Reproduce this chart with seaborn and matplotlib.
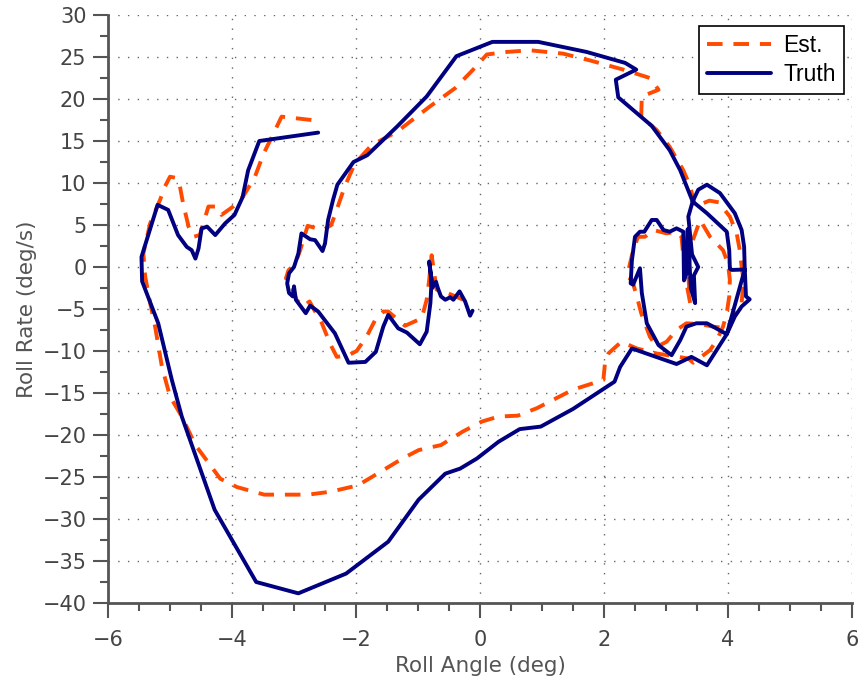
import matplotlib
matplotlib.use("Agg")
import matplotlib.pyplot as plt
from matplotlib.ticker import MultipleLocator
import seaborn as sns
import pandas as pd

# Roll angle (deg) / roll rate (deg/s) phase-plane trajectories
truth_x = [-2.61, -3.56, -3.74, -3.83, -3.96, -4.11, -4.27, -4.40, -4.49, -4.54, -4.59, -4.65,
           -4.73, -4.87, -5.03, -5.20, -5.46, -5.45, -5.19, -4.97, -4.81, -4.28, -3.61, -2.93,
           -2.16, -1.48, -0.99, -0.56, -0.32, -0.05, 0.30, 0.64, 0.98, 1.50, 2.17,
           2.26, 2.45, 3.17, 3.41, 3.66, 3.98, 4.27, 4.06, 4.03, 4.02, 3.98, 3.66, 3.43,
           3.36, 3.42, 3.52, 3.45, 3.47, 3.40, 3.35, 3.33, 3.29, 3.28,
           3.17, 3.06, 2.96, 2.85, 2.77, 2.65, 2.58, 2.50, 2.45, 2.43, 2.47, 2.58, 2.61, 2.69,
           2.88, 3.09, 3.23, 3.33, 3.49, 3.66, 3.98,
           4.11, 4.22, 4.35, 4.29, 4.27, 4.26, 4.22, 4.11, 3.87, 3.66, 3.52, 3.43,
           3.23, 3.06, 2.77, 2.23, 2.19, 2.52, 2.34, 1.72, 0.94, 0.20, -0.38, -0.86, -1.34,
           -1.82, -2.04, -2.30, -2.37, -2.45, -2.50, -2.54, -2.66, -2.74, -2.88, -2.93, -3.00,
           -3.08, -3.11, -3.08, -3.02, -3.00, -2.97, -2.81, -2.74, -2.61, -2.34, -2.12, -1.85,
           -1.68, -1.56, -1.48, -1.32, -1.18, -0.97, -0.86, -0.80, -0.78, -0.82, -0.77, -0.71,
           -0.68, -0.63, -0.56, -0.48, -0.43, -0.33, -0.24, -0.16, -0.12]
truth_y = [16.0, 15.0, 11.5, 8.3, 6.2, 5.2, 3.8, 4.8, 4.6, 2.2, 1.0, 2.0,
           2.4, 3.8, 6.8, 7.4, 1.2, -1.7, -6.7, -13.45, -17.8, -28.9, -37.5, -38.85,
           -36.5, -32.7, -27.7, -24.6, -24.0, -22.8, -20.8, -19.3, -19.0, -16.9, -13.65,
           -11.9, -9.7, -11.55, -10.7, -11.7, -8.0, -0.3, -0.35, -0.2, 2.0, 4.2, 6.4, 7.8,
           6.0, 1.5, 0.0, -1.0, -4.3, -2.5, 4.5, -0.8, -1.6, 4.2,
           4.6, 4.2, 4.4, 5.6, 5.6, 4.2, 4.2, 3.6, 0.8, -1.95, -2.1, -0.15, -3.1, -6.7,
           -9.3, -10.5, -8.7, -7.1, -6.7, -6.7, -8.0,
           -5.9, -4.7, -3.85, -3.5, -0.15, 2.4, 4.4, 6.4, 8.8, 9.8, 9.2, 7.8,
           11.5, 13.9, 16.8, 20.2, 22.3, 23.5, 24.3, 25.6, 26.8, 26.8, 25.1, 20.3, 16.7,
           13.3, 12.5, 9.8, 8.0, 5.6, 2.8, 1.9, 3.2, 3.3, 4.0, 1.6, 0.0,
           -0.75, -1.95, -3.1, -3.5, -2.3, -3.9, -5.5, -4.6, -5.3, -7.9, -11.4, -11.3,
           -10.1, -7.1, -5.7, -7.3, -7.8, -9.2, -7.7, -4.3, -1.5, 0.65, -2.5, -1.75,
           -2.5, -3.5, -3.9, -3.6, -3.9, -2.9, -4.1, -5.8, -5.2]

est_x = [-2.72, -3.20, -3.33, -3.49, -3.63, -3.82, -3.98, -4.17, -4.25, -4.38, -4.52, -4.62,
         -4.70, -4.79, -4.84, -4.90, -5.00, -5.08, -5.16, -5.32, -5.43, -5.40, -5.32, -5.24,
         -5.13, -5.00, -4.81, -4.59, -4.19, -3.92, -3.48, -2.77, -2.41, -1.97, -1.61, -1.25,
         -0.99, -0.63, -0.28, 0.03, 0.30, 0.61, 0.92, 1.50, 1.99,
         2.02, 2.07, 2.28, 2.53, 2.85, 3.20, 3.36, 3.44, 3.55, 3.71, 3.82, 3.92, 3.98, 4.02,
         4.03, 4.00, 3.92, 3.71, 3.55,
         3.40, 3.36, 3.39, 3.33, 3.28, 3.25, 3.17, 3.01, 2.80, 2.66, 2.55, 2.47, 2.37, 2.45,
         2.53, 2.60, 2.74, 2.85, 3.01, 3.17, 3.33, 3.55, 3.76, 3.98, 4.12, 4.22, 4.25, 4.22,
         4.19, 4.14, 4.03, 3.85, 3.70, 3.47, 3.39, 3.28, 3.06, 2.85, 2.60, 2.61, 2.88, 2.74,
         2.31, 1.77, 1.34, 0.81, 0.43, 0.11, -0.11, -0.40, -0.81, -1.34, -1.75, -2.02, -2.18,
         -2.34, -2.40, -2.53, -2.63, -2.78, -2.90, -2.98, -3.09, -3.13, -3.04, -3.02, -2.96,
         -2.85, -2.75, -2.69, -2.55, -2.42, -2.31, -2.12, -1.99, -1.83, -1.69, -1.56, -1.48,
         -1.21, -0.94, -0.86, -0.82, -0.78, -0.70, -0.59, -0.46, -0.27, -0.13]
est_y = [17.5, 17.9, 15.9, 13.5, 10.75, 8.4, 7.2, 6.2, 7.2, 7.2, 3.8, 3.6,
         4.8, 7.6, 9.6, 10.6, 10.75, 9.6, 8.0, 5.2, 1.6, -1.15, -4.3, -7.1,
         -11.9, -15.4, -17.8, -21.2, -25.2, -26.2, -27.1, -27.1, -26.75, -26.0, -24.4, -22.8,
         -21.8, -21.2, -19.6, -18.4, -17.8, -17.7, -16.8, -14.6, -13.45,
         -11.1, -10.3, -8.9, -9.7, -10.3, -10.7, -10.9, -11.4, -10.8, -9.9, -8.7, -7.1, -5.5, -3.5,
         -1.55, 0.4, 2.0, 3.6, 5.6,
         2.5, -1.0, -4.3, -1.95, 1.2, 3.6, 4.2, 4.0, 4.4, 3.6, 3.6, 2.0, -1.15, -1.5,
         -3.5, -5.5, -8.3, -9.5, -8.9, -7.5, -6.7, -6.8, -7.1, -7.3, -5.6, -4.3, -1.55, 0.0,
         2.0, 4.0, 6.0, 7.7, 7.9, 7.2, 9.6, 11.5, 14.3, 16.3, 17.9, 20.3, 21.1, 22.5,
         23.5, 24.6, 25.4, 25.8, 25.6, 25.3, 23.5, 21.3, 19.1, 16.1, 14.5, 12.3, 9.6,
         6.2, 5.0, 4.4, 4.6, 4.9, 2.0, 0.4, -0.4, -1.35, -1.55, -2.7, -3.9,
         -4.7, -4.1, -4.9, -6.7, -9.1, -10.7, -10.5, -10.0, -8.3, -6.3, -5.3, -5.3,
         -7.0, -6.1, -3.9, -1.55, 1.4, -2.7, -2.9, -3.3, -3.9, -3.5]

x_ticks = [-6, -4, -2, 0, 2, 4, 6]
y_ticks = [-40, -35, -30, -25, -20, -15, -10, -5, 0, 5, 10, 15, 20, 25, 30]

est_df = pd.DataFrame({"angle": est_x, "rate": est_y})
truth_df = pd.DataFrame({"angle": truth_x, "rate": truth_y})

sns.set_style("white")
plt.rcParams["font.family"] = ["DejaVu Sans"]
plt.rcParams["axes.unicode_minus"] = True

fig = plt.figure(figsize=(8.63, 6.86), dpi=100)
ax = fig.add_axes([108 / 863, 1 - 603 / 686, 744 / 863, 588 / 686])

sns.lineplot(data=est_df, x="angle", y="rate", sort=False, estimator=None, ax=ax,
             color="#ff4a00", linewidth=2.8, label="Est.")
ax.lines[-1].set_dashes((4.0, 2.8))
sns.lineplot(data=truth_df, x="angle", y="rate", sort=False, estimator=None, ax=ax,
             color="#000080", linewidth=2.8, label="Truth")

ax.set_xlim(-6, 6)
ax.set_ylim(-40, 30)
ax.set_xticks(x_ticks)
ax.set_yticks(y_ticks)
ax.xaxis.set_minor_locator(MultipleLocator(0.5))
ax.yaxis.set_minor_locator(MultipleLocator(2.5))

ax.grid(True, which="major", linestyle=(0, (1, 6)), color="#666666", linewidth=1.0)
ax.set_axisbelow(True)

for side in ("top", "right"):
    ax.spines[side].set_visible(False)
for side in ("left", "bottom"):
    ax.spines[side].set_color("#555555")
    ax.spines[side].set_linewidth(2.0)

ax.tick_params(which="major", direction="out", length=10.5, width=1.5, color="#555555",
               labelsize=15, labelcolor="#444444")
ax.tick_params(which="minor", direction="out", length=5.5, width=1.5, color="#555555")
ax.tick_params(axis="x", which="major", pad=9, bottom=True)
ax.tick_params(axis="y", which="major", pad=5, left=True)
ax.tick_params(axis="x", which="minor", bottom=True)
ax.tick_params(axis="y", which="minor", left=True)

ax.set_xlabel("Roll Angle (deg)", fontsize=15.5, color="#555555", labelpad=4)
ax.set_ylabel("Roll Rate (deg/s)", fontsize=15.5, color="#555555", labelpad=4)

leg = ax.legend(loc="upper right", bbox_to_anchor=(0.989, 0.981), borderaxespad=0,
                frameon=True, fancybox=False, edgecolor="black", framealpha=1,
                prop={"family": "Liberation Sans", "size": 16.5},
                handlelength=2.8, handletextpad=0.55, labelspacing=0.25, borderpad=0.35)
leg.get_frame().set_linewidth(1.2)
for txt in leg.get_texts():
    txt.set_color("black")

fig.savefig("out.png", dpi=100)
